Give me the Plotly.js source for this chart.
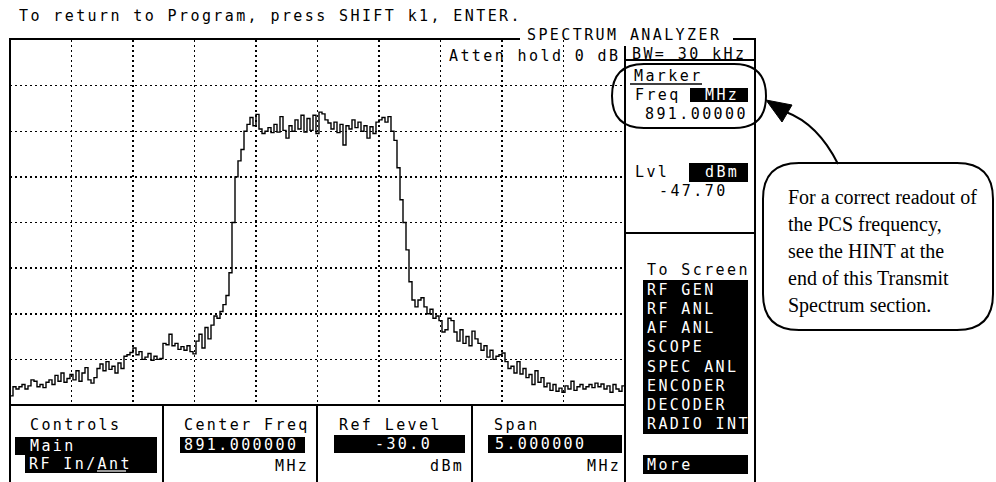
<!DOCTYPE html>
<html>
<head>
<meta charset="utf-8">
<script src="https://cdn.plot.ly/plotly-3.0.1.min.js"></script>
<style>
  html, body { margin: 0; padding: 0; background: #fff; }
  #chart { width: 996px; height: 482px; }
  text.annotation-text[style*="DejaVu Sans Mono"] { letter-spacing: 2.4px; }
</style>
</head>
<body>
<div id="chart"></div>
<script>
// ---- instrument settings / data ----
const centerFreqMHz = 891.0;
const spanMHz = 5.0;
const refLevelDbm = -30;
const dbPerDiv = 10;
const numDivY = 8;

// trace level in dBm across the sweep (left to right)
const traceLevels = [
  -108,-106,-106.5,
  -106,-105.5,-106.5,-105.8,-104.5,
  -104.8,-106,-105.5,-106.2,-105,
  -104.5,-105.5,-103.5,-104.8,-103,-105,-104.2,-103.3,
  -104.5,-102.5,-104.8,-103,-101.8,
  -104.5,-105.2,-104,
  -102,-101,-102.5,-100.5,-102.2,
  -101.5,-103,-100.8,-102,
  -99.3,-99,-98.5,
  -97.5,
  -99,-98.3,-100,-99.5,-98.7,-100.2,-99.3,-100,-99.8,
  -96.5,-96.8,
  -94.5,
  -97,-96.5,-97.8,-97.2,-98,-97,-98.3,
  -98.8,-96,
  -94.5,-97.5,-93,-95.5,-92.5,
  -90.5,-91,-89.5,
  -88,-86,-81,-70,-60,-56.5,-54,-50,
  -48.5,-47,-48.8,-46.3,
  -49.5,-50.5,-50,-49.2,-50.3,
  -48.5,-50.2,-46.8,-49.8,-51.5,-48.8,-50,-47.5,-49.5,-46.5,-50.2,
  -47.2,-49.8,-46.5,-50.5,
  -45.8,-46.2,
  -47.5,-48.2,-49.5,-48,-50.3,-48.5,-53,
  -48.8,-49.5,-47.5,-49.2,-48,-50,-48.8,-51.5,-49,-50.5,-48,
  -47.5,-47,-48,-46.8,
  -50,-52,-58,-65,-70,-76,-83,-87,
  -88.5,-87,-86.5,
  -88.5,-90,-89,-91,-90.5,
  -91.5,-94,-93.5,
  -91,-91.5,
  -94,-96,-93.5,-96.5,-95,-97,-93.8,-95.5,
  -96.5,-98,-97,-99.5,-98,-100,-99.3,
  -99,-98.6,
  -100.5,-102,-101.5,-103,-100.5,-103.2,-102,-104,
  -103.3,-105.5,-102.5,-105,-104,
  -106,-105.2,-106.8,-105.5,-107,-106.3,-107.2,
  -105.8,-106.5,-104.8,-106.8,-106,-105.5,-106.5,-106,
  -105.5,-106.2,-105.2,-106,-105.4,-106.5,-105.8,
  -107.2,-105.5,-106.5,-107,-105.8,-106.5
];

// ---- screen texts ----
const headerText = "To return to Program, press SHIFT k1, ENTER.";
const screenTitle = "SPECTRUM ANALYZER";
const attenText = "Atten hold 0 dB";
const bwText = "BW= 30 kHz";
const markerLabel = "Marker";
const markerFreqLabel = "Freq";
const markerFreqUnit = "MHz";
const markerFreqValue = "891.00000";
const markerLvlLabel = "Lvl";
const markerLvlUnit = "dBm";
const markerLvlValue = "-47.70";
const toScreenLabel = "To Screen";
const toScreenItems = ["RF GEN","RF ANL","AF ANL","SCOPE","SPEC ANL","ENCODER","DECODER","RADIO INT"];
const moreLabel = "More";
const fieldLabels = ["Controls","Center Freq","Ref Level","Span"];
const fieldValues = ["891.000000","-30.0","5.000000"];
const fieldUnits = ["MHz","dBm","MHz"];
const controlsValues = ["Main","RF In/Ant"];
const calloutLines = ["For a correct readout of","the PCS frequency,","see the HINT at the","end of this Transmit","Spectrum section."];

// ---- geometry helpers (pixel -> paper) ----
const L = 10, T = 40, W = 615, H = 365;
const px = x => (x - L) / W;
const py = y => 1 - (y - T) / H;

const freqs = traceLevels.map((_, i) => centerFreqMHz - spanMHz / 2 + i * spanMHz / (traceLevels.length - 1));

const mono = "DejaVu Sans Mono";
const fs = 15;

const shapes = [];
const annotations = [];

function line(x0, y0, x1, y1, w, c) {
  shapes.push({type: "line", xref: "paper", yref: "paper", x0: px(x0), y0: py(y0), x1: px(x1), y1: py(y1),
    line: {color: c || "#000", width: w || 2}});
}
function box(x0, y0, x1, y1) {
  shapes.push({type: "rect", xref: "paper", yref: "paper", x0: px(x0), y0: py(y0), x1: px(x1), y1: py(y1),
    fillcolor: "#000", line: {width: 0}});
}
function txt(s, x, y, opts) {
  opts = opts || {};
  annotations.push({text: s, xref: "paper", yref: "paper", x: px(x), y: py(y), showarrow: false,
    xanchor: opts.anchor || "left", yanchor: "middle", align: opts.align || "left",
    font: {family: opts.family || mono, size: opts.size || fs, color: opts.color || "#000"}});
}
function roundRectPath(x0, y0, x1, y1, r) {
  const P = (x, y) => px(x) + "," + py(y);
  return "M" + P(x0 + r, y0) + " L" + P(x1 - r, y0) + " Q" + P(x1, y0) + " " + P(x1, y0 + r) +
    " L" + P(x1, y1 - r) + " Q" + P(x1, y1) + " " + P(x1 - r, y1) +
    " L" + P(x0 + r, y1) + " Q" + P(x0, y1) + " " + P(x0, y1 - r) +
    " L" + P(x0, y0 + r) + " Q" + P(x0, y0) + " " + P(x0 + r, y0) + " Z";
}

// frame
line(10, 39, 520, 39);
line(733, 39, 756, 39);
line(10, 38, 10, 482);
line(755, 38, 755, 482);
line(625, 46, 625, 482);
line(625, 60, 755, 60);
line(625, 233, 755, 233);
line(10, 405, 625, 405);
line(163, 405, 163, 482);
line(317, 405, 317, 482);
line(472, 405, 472, 482);

// header texts
txt(headerText, 17, 16);
txt(screenTitle, 525, 35);
txt(attenText, 622, 56, {anchor: "right"});
txt(bwText, 630, 54);

// marker panel
txt(markerLabel, 632, 76);
line(630, 84, 702, 84, 1.5);
txt(markerFreqLabel, 633, 95);
box(690, 88, 748, 102);
txt(markerFreqUnit, 703, 95, {color: "#fff"});
txt(markerFreqValue, 643, 114);
txt(markerLvlLabel, 633, 172);
box(689, 163, 748, 182);
txt(markerLvlUnit, 703, 172, {color: "#fff"});
txt(markerLvlValue, 657, 191);

// To Screen
txt(toScreenLabel, 645, 270);
box(643, 280, 748, 434);
const rowH = (434 - 280) / toScreenItems.length;
toScreenItems.forEach((s, i) => txt(s, 645, 280 + rowH * (i + 0.5), {color: "#fff"}));
box(643, 455, 748, 474);
txt(moreLabel, 645, 464.5, {color: "#fff"});

// bottom fields
txt(fieldLabels[0], 28, 425);
box(15, 437, 157, 455);
box(25, 455, 157, 473);
txt(controlsValues[0], 28, 446, {color: "#fff"});
txt(controlsValues[1], 27, 464, {color: "#fff"});
line(97, 471, 126, 471, 1.2, "#fff");

txt(fieldLabels[1], 182, 425);
box(180, 437, 305, 453);
txt(fieldValues[0], 182, 445, {color: "#fff"});
txt(fieldUnits[0], 311, 466, {anchor: "right"});

txt(fieldLabels[2], 337, 425);
box(334, 435, 465, 453);
txt(fieldValues[1], 373, 444, {color: "#fff"});
txt(fieldUnits[1], 466, 466, {anchor: "right"});

txt(fieldLabels[3], 492, 425);
box(488, 435, 622, 453);
txt(fieldValues[2], 493, 444, {color: "#fff"});
txt(fieldUnits[2], 623, 466, {anchor: "right"});

// marker oval
shapes.push({type: "path", xref: "paper", yref: "paper", path: roundRectPath(612, 64, 766, 128, 32),
  line: {color: "#000", width: 2}});

// callout bubble
shapes.push({type: "path", xref: "paper", yref: "paper", path: roundRectPath(763, 163, 993, 330, 36),
  line: {color: "#000", width: 2}, fillcolor: "#fff"});
calloutLines.forEach((s, i) => txt(s, 786, 197 + i * 27, {family: "Liberation Serif", size: 20}));

// arrow
const P = (x, y) => px(x) + "," + py(y);
shapes.push({type: "path", xref: "paper", yref: "paper",
  path: "M" + P(838, 164) + " Q" + P(818, 124) + " " + P(786, 112), line: {color: "#000", width: 2}});
shapes.push({type: "path", xref: "paper", yref: "paper",
  path: "M" + P(766, 100) + " L" + P(792, 105) + " L" + P(782, 122) + " Z",
  fillcolor: "#000", line: {color: "#000", width: 1}});

const trace = {
  x: freqs, y: traceLevels, type: "scatter", mode: "lines",
  line: {shape: "hv", color: "#000", width: 1.4}, hoverinfo: "skip"
};

const layout = {
  width: 996, height: 482,
  margin: {l: 10, r: 371, t: 40, b: 77, pad: 0},
  paper_bgcolor: "#fff", plot_bgcolor: "#fff",
  showlegend: false,
  xaxis: {range: [centerFreqMHz - spanMHz / 2, centerFreqMHz + spanMHz / 2], tick0: centerFreqMHz - spanMHz / 2,
    dtick: spanMHz / 10, showticklabels: false, ticks: "", showgrid: true, gridcolor: "#000", gridwidth: 1.5,
    griddash: "2px,3px", zeroline: false, showline: false, fixedrange: true},
  yaxis: {range: [refLevelDbm - numDivY * dbPerDiv, refLevelDbm], tick0: refLevelDbm, dtick: dbPerDiv,
    showticklabels: false, ticks: "", showgrid: true, gridcolor: "#000", gridwidth: 1.5,
    griddash: "2px,3px", zeroline: false, showline: false, fixedrange: true},
  shapes: shapes,
  annotations: annotations
};

Plotly.newPlot("chart", [trace], layout, {displayModeBar: false, staticPlot: true});
</script>
</body>
</html>
